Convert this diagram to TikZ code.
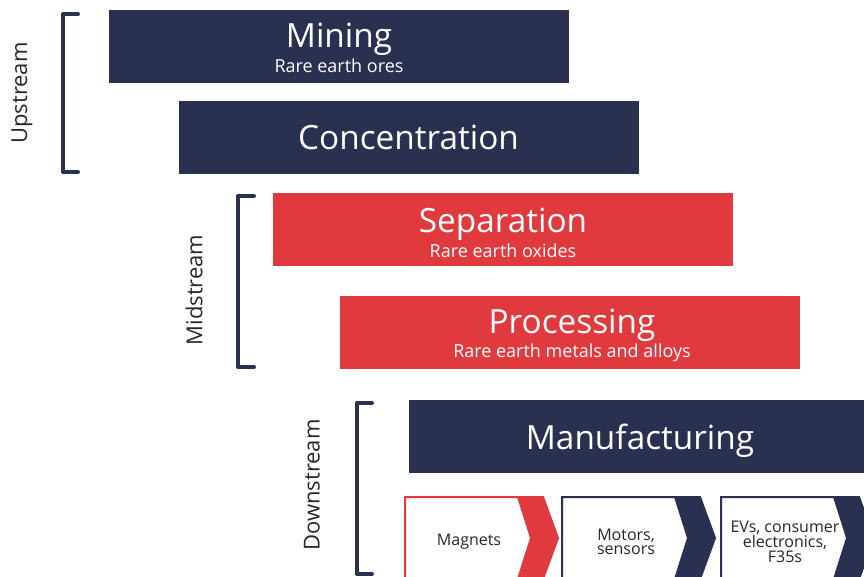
\documentclass[tikz,border=0pt]{standalone}
\usepackage{fontspec}
\setmainfont{Open Sans}
\usetikzlibrary{positioning}
\definecolor{navy}{HTML}{2A3150}
\definecolor{brick}{HTML}{E03A3E}

\begin{document}
\begin{tikzpicture}[x=0.75pt, y=-0.75pt,
  stagebox/.style={fill=#1, draw=none, minimum width=345pt, minimum height=54.75pt, inner sep=0pt},
  title/.style={text=white, anchor=base, inner sep=0pt, font=\fontsize{25}{29}\selectfont},
  subtitle/.style={text=white, anchor=base, inner sep=0pt, font=\fontsize{13.5}{16}\selectfont},
  bracket/.style={draw=navy, line width=3pt, line cap=round, line join=round},
  phase/.style={rotate=90, text=black!85, inner sep=0pt, font=\fontsize{16.5}{20}\selectfont},
  product/.style={align=center, text=black!85, inner sep=0pt, font=\fontsize{12}{11}\selectfont},
]
\useasboundingbox (0,0) rectangle (864,577);
\clip (0,0) rectangle (864,577);

% upstream: mining and concentration
\node[stagebox=navy] (mining) at (339,47) {};
\node[title] (miningT) at (339,48) {Mining};
\node[subtitle] (miningS) at (339,73) {Rare earth ores};
\node[stagebox=navy] (conc) at (408.5,137.5) {};
\node[title] (concT) at (408.5,150) {Concentration};

% midstream: separation and processing
\node[stagebox=brick] (sep) at (503,229.5) {};
\node[title] (sepT) at (503,233) {Separation};
\node[subtitle] (sepS) at (503,258) {Rare earth oxides};
\node[stagebox=brick] (proc) at (570,332.5) {};
\node[title] (procT) at (572,334) {Processing};
\node[subtitle] (procS) at (572,358) {Rare earth metals and alloys};

% downstream: manufacturing and its products
\node[stagebox=navy, minimum width=346.5pt] (manu) at (640,436.5) {};
\node[title] (manuT) at (640,449) {Manufacturing};

\foreach \x/\col/\txt [count=\i] in {405/brick/Magnets, 562/navy/{Motors,\\sensors}, 721/navy/{EVs, consumer\\electronics,\\F35s}} {
  \draw[\col, line width=1.5pt] (\x,497) -- ++(138,0) -- ++(15,41) -- ++(-15,41) -- (\x,579) -- cycle;
  \fill[\col] (\x+112,497) -- (\x+138,497) -- (\x+153,538) -- (\x+138,579) -- (\x+112,579) -- (\x+125,538) -- cycle;
  \node[product] (prod\i) at (\x+64,542) {\txt};
}

% phase brackets
\draw[bracket] (78,14) -- (63,14) -- (63,172) -- (78,172);
\node[phase] (up) at (22,93) {Upstream};
\draw[bracket] (254,196) -- (238,196) -- (238,367) -- (254,367);
\node[phase] (mid) at (194,290) {Midstream};
\draw[bracket] (372,403) -- (357,403) -- (357,574) -- (372,574);
\node[phase] (down) at (312,485) {Downstream};

\end{tikzpicture}
\end{document}
